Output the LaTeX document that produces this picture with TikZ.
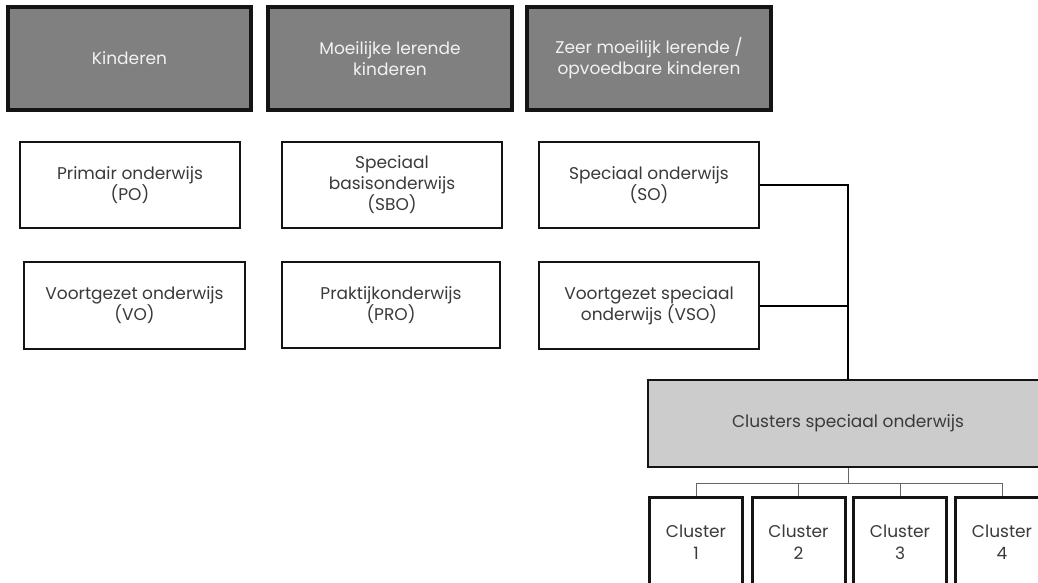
\documentclass[tikz,border=0pt]{standalone}
\usepackage{fontspec}
\setmainfont{Poppins}
\usetikzlibrary{calc}
\definecolor{topfill}{HTML}{808080}
\definecolor{toptext}{HTML}{F2F2F2}
\definecolor{bodytext}{HTML}{3A3A3A}
\definecolor{clfill}{HTML}{CCCCCC}
\definecolor{edge}{HTML}{141414}
\tikzset{
  every node/.style={font=\fontsize{17}{21}\selectfont, align=center, inner sep=0pt},
  headbox/.style={draw=edge, line width=4pt, fill=topfill, text=toptext, minimum width=#1, minimum height=103pt},
  headbox/.default=243pt,
  eduboxA/.style={draw=edge, line width=2.6pt, fill=white, text=bodytext, minimum width=220pt, minimum height=86pt},
  clbox/.style={draw=edge, line width=2.6pt, fill=clfill, text=bodytext, minimum width=400pt, minimum height=87pt},
  subbox/.style={draw=edge, line width=3pt, fill=white, text=bodytext, minimum width=93pt, minimum height=90pt, font=\fontsize{17}{22}\selectfont},
  link/.style={draw=black, line width=2pt},
  treelink/.style={draw=black!60, line width=1pt}
}
\begin{document}
\begin{tikzpicture}[x=1pt,y=-1pt]
\useasboundingbox (0,0) rectangle (1038,583);
\clip (0,0) rectangle (1038,583);
% header row
\node[headbox=243pt] (kind) at (129.5,58.5) {Kinderen};
\node[headbox=244pt] (moeil) at (390,58.5) {Moeilijke lerende\\kinderen};
\node[headbox=244pt] (zeer) at (649,58.5) {Zeer moeilijk lerende /\\opvoedbare kinderen};
% second row
\node[eduboxA] (po) at (130,185) {Primair onderwijs\\(PO)};
\node[eduboxA] (sbo) at (392,185) {Speciaal\\basisonderwijs\\(SBO)};
\node[eduboxA] (so) at (649,185) {Speciaal onderwijs\\(SO)};
% third row
\node[eduboxA, minimum width=221pt, minimum height=87pt] (vo) at (134.5,305.5) {Voortgezet onderwijs\\(VO)};
\node[eduboxA, minimum width=218pt] (pro) at (391,305) {Praktijkonderwijs\\(PRO)};
\node[eduboxA, minimum height=87pt] (vso) at (649,305.5) {Voortgezet speciaal\\onderwijs (VSO)};
% clusters
\node[clbox] (cl) at (848,423.5) {Clusters speciaal onderwijs};
\node[subbox] (c1) at (696,542) {Cluster\\1};
\node[subbox] (c2) at (798.5,542) {Cluster\\2};
\node[subbox] (c3) at (900,542) {Cluster\\3};
\node[subbox] (c4) at (1002,542) {Cluster\\4};
% connectors
\draw[link] (so.east) -| (cl.north);
\draw[link] (vso.east) -- (vso.east -| cl.north);
\coordinate (bus) at ($(cl.south)+(0,15)$);
\draw[treelink] (cl.south) -- (bus);
\draw[treelink] (bus -| c1.north) -- (bus -| c4.north);
\draw[treelink] (bus -| c1.north) -- (c1.north);
\draw[treelink] (bus -| c2.north) -- (c2.north);
\draw[treelink] (bus -| c3.north) -- (c3.north);
\draw[treelink] (bus -| c4.north) -- (c4.north);
\end{tikzpicture}
\end{document}
